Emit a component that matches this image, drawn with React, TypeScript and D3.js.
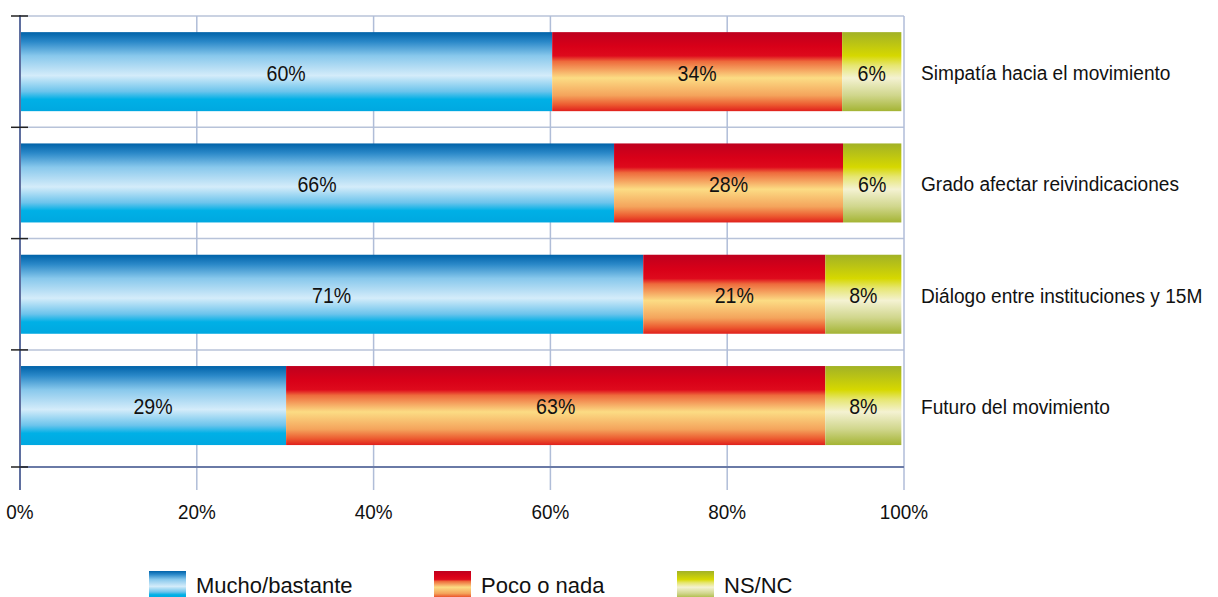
import React from "react";
import * as d3 from "d3";

const categories = [
  "Simpatía hacia el movimiento",
  "Grado afectar reivindicaciones",
  "Diálogo entre instituciones y 15M",
  "Futuro del movimiento",
];
const seriesNames = ["Mucho/bastante", "Poco o nada", "NS/NC"];
const muchoValues = [60.2, 67.2, 70.5, 30.1];
const pocoValues = [32.8, 25.9, 20.6, 61.0];
const nsncValues = [6.7, 6.6, 8.6, 8.6];
const muchoLabels = ["60%", "66%", "71%", "29%"];
const pocoLabels = ["34%", "28%", "21%", "63%"];
const nsncLabels = ["6%", "6%", "8%", "8%"];
const xTicks = [0, 20, 40, 60, 80, 100];

const FONT = "'Liberation Sans', Arial, Helvetica, sans-serif";

const gradients = [
  {
    id: "gBlue",
    stops: [
      [0, "#0062a8"],
      [0.12, "#2a88c8"],
      [0.3, "#88c8ec"],
      [0.55, "#d4ecfa"],
      [0.75, "#6cc4ec"],
      [0.85, "#00b0e6"],
      [1, "#00a8e0"],
    ],
  },
  {
    id: "gRed",
    stops: [
      [0, "#be001e"],
      [0.18, "#d80018"],
      [0.3, "#de0a1c"],
      [0.37, "#ee6a3c"],
      [0.58, "#fcdc84"],
      [0.8, "#f4a45c"],
      [0.92, "#ec5a30"],
      [1, "#e0201c"],
    ],
  },
  {
    id: "gGreen",
    stops: [
      [0, "#a2b226"],
      [0.3, "#d6d800"],
      [0.42, "#e6e670"],
      [0.58, "#f4f2d2"],
      [0.8, "#d0d68c"],
      [1, "#a4b434"],
    ],
  },
];

function CText({
  x,
  y,
  sx,
  size,
  anchor = "start",
  children,
}: {
  x: number;
  y: number;
  sx: number;
  size: number;
  anchor?: string;
  children: React.ReactNode;
}) {
  return (
    <text
      transform={`translate(${x},${y}) scale(${sx},1)`}
      x={0}
      y={0}
      textAnchor={anchor}
      dominantBaseline="central"
      fontSize={size}
      fill="#111"
    >
      {children}
    </text>
  );
}

export default function App() {
  const x = d3.scaleLinear().domain([0, 100]).range([20, 904]);
  const y = d3
    .scaleBand<string>()
    .domain(categories)
    .range([16, 461.2])
    .paddingInner(0.29)
    .paddingOuter(0.145);
  const axisY = 467;
  const gridBottom = 490;
  const step = y.step();
  const boundaries = categories.map((_, i) => y.range()[0] + i * step);

  const series = [
    { values: muchoValues, labels: muchoLabels, fill: "url(#gBlue)" },
    { values: pocoValues, labels: pocoLabels, fill: "url(#gRed)" },
    { values: nsncValues, labels: nsncLabels, fill: "url(#gGreen)" },
  ];

  const stacked = categories.map((c, i) => {
    let acc = 0;
    return series.map((s) => {
      const start = acc;
      acc += s.values[i];
      return { c, start, end: acc, label: s.labels[i], fill: s.fill };
    });
  });

  const legendX = [149, 434, 677];
  const legendFills = ["url(#gBlue)", "url(#gRed)", "url(#gGreen)"];

  return (
    <svg
      width={1218}
      height={597}
      style={{ position: "absolute", left: 0, top: 0, background: "#fff" }}
      fontFamily={FONT}
    >
      <defs>
        {gradients.map((g) => (
          <linearGradient key={g.id} id={g.id} x1="0" y1="0" x2="0" y2="1">
            {g.stops.map(([o, c], i) => (
              <stop key={i} offset={o as number} stopColor={c as string} />
            ))}
          </linearGradient>
        ))}
      </defs>

      {/* horizontal gridlines */}
      {boundaries.map((b, i) => (
        <line key={"h" + i} x1={x(0)} x2={x(100)} y1={b} y2={b} stroke="#b8c3d9" strokeWidth={1.5} />
      ))}
      {/* vertical gridlines */}
      {xTicks.slice(1).map((t) => (
        <line key={"v" + t} x1={x(t)} x2={x(t)} y1={boundaries[0]} y2={gridBottom} stroke="#b0bdd8" strokeWidth={1.5} />
      ))}

      {/* bars */}
      {stacked.map((segs, i) =>
        segs.map((s, j) => (
          <rect
            key={i + "-" + j}
            x={x(s.start)}
            y={y(s.c)}
            width={x(s.end) - x(s.start)}
            height={y.bandwidth()}
            fill={s.fill}
          />
        ))
      )}
      {stacked.map((segs, i) =>
        segs.map((s, j) => (
          <CText
            key={"t" + i + "-" + j}
            x={(x(s.start) + x(s.end)) / 2}
            y={(y(s.c) as number) + y.bandwidth() / 2 + 1}
            sx={0.89}
            size={22}
            anchor="middle"
          >
            {s.label}
          </CText>
        ))
      )}

      {/* x axis */}
      <line x1={x(0)} x2={x(100)} y1={axisY} y2={axisY} stroke="#6a7aa6" strokeWidth={2} />
      {/* y axis */}
      <line x1={x(0)} x2={x(0)} y1={15} y2={gridBottom} stroke="#5f6f9f" strokeWidth={2} />
      {[...boundaries, axisY].map((b, i) => (
        <line key={"tk" + i} x1={11} x2={28} y1={b} y2={b} stroke="#222" strokeWidth={1.5} />
      ))}

      {xTicks.map((t) => (
        <CText key={"xl" + t} x={x(t)} y={512} sx={0.9} size={21} anchor="middle">
          {t + "%"}
        </CText>
      ))}

      {categories.map((c) => (
        <CText key={"c" + c} x={921} y={(y(c) as number) + y.bandwidth() / 2 + 1} sx={0.91} size={21}>
          {c}
        </CText>
      ))}

      {seriesNames.map((n, i) => (
        <g key={"lg" + i}>
          <rect x={legendX[i]} y={571} width={37} height={28} fill={legendFills[i]} />
          <text x={legendX[i] + 47} y={585} dominantBaseline="central" fontSize={22} fill="#111">
            {n}
          </text>
        </g>
      ))}
    </svg>
  );
}
